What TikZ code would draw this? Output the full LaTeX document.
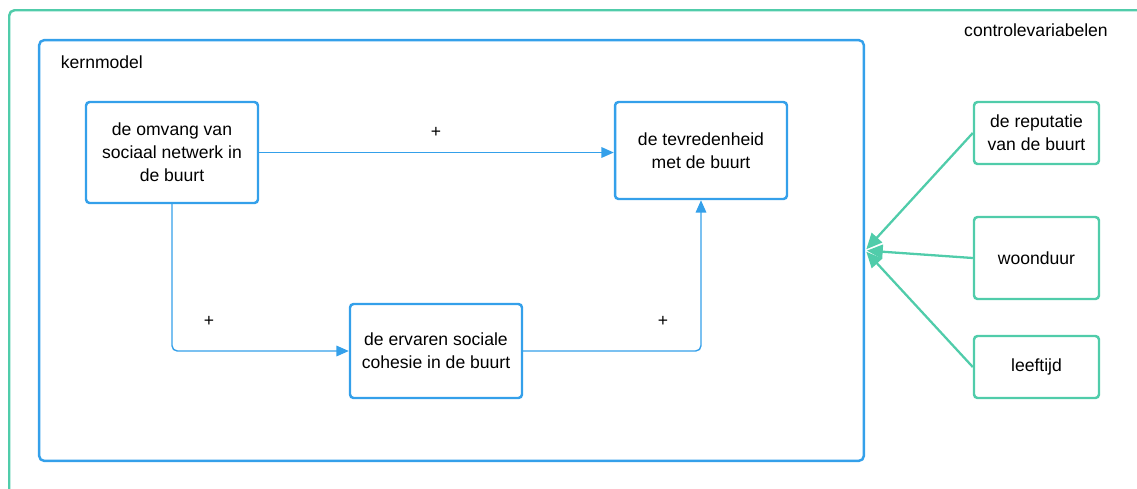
\documentclass[tikz,border=0pt]{standalone}
\usepackage{fontspec}
\setmainfont{Liberation Sans}
\usetikzlibrary{arrows.meta}
\definecolor{kernblue}{RGB}{52,160,234}
\definecolor{ctrlgreen}{RGB}{80,204,170}

\begin{document}
\begin{tikzpicture}[x=0.02cm,y=-0.02cm,
  every node/.style={font=\fontsize{10}{13}\selectfont, text=black, align=center, inner sep=2pt},
  varbox/.style={draw=kernblue, line width=1.4pt, rounded corners=2pt, minimum width=3.44cm},
  ctrlbox/.style={draw=ctrlgreen, line width=1.4pt, rounded corners=2pt, minimum width=2.5cm},
  pad/.style={draw=kernblue, line width=0.8pt, rounded corners=3pt, -{Triangle[length=7pt,width=6pt]}},
  ctrlpad/.style={draw=ctrlgreen, line width=1.3pt, shorten >=1pt, -{Triangle[length=9pt,width=8pt]}}]
\clip (0,0) rectangle (1137,488);
% controlevariabelen frame, runs off the page at right and bottom
\node[draw=ctrlgreen, line width=1.4pt, rounded corners=3pt, minimum width=24cm, minimum height=10cm, anchor=north west] (ctrl) at (8,9) {};
\node (ctrltitle) at (1036,30) {controlevariabelen};
% kernmodel
\node[draw=kernblue, line width=1.4pt, rounded corners=3pt, minimum width=16.5cm, minimum height=8.42cm] (kern) at (451.5,250.5) {};
\node[anchor=west] (kerntitle) at (57,62) {kernmodel};
\node[varbox, minimum height=2.02cm] (netwerk) at (172,152.5) {de omvang van\\sociaal netwerk in\\de buurt};
\node[varbox, minimum height=1.94cm] (tevreden) at (701,150.5) {de tevredenheid\\met de buurt};
\node[varbox, minimum height=1.88cm] (cohesie) at (436,351) {de ervaren sociale\\cohesie in de buurt};
\draw[pad] (netwerk.east) -- (netwerk.east -| tevreden.west);
\draw[pad] (netwerk.south) |- (cohesie.west);
\draw[pad] (cohesie.east) -| (tevreden.south);
\node (plusa) at (436,132) {+};
\node (plusb) at (209,321) {+};
\node (plusc) at (663,321) {+};
% control variables
\node[ctrlbox, minimum height=1.24cm] (reputatie) at (1036.5,133) {de reputatie\\van de buurt};
\node[ctrlbox, minimum height=1.64cm] (woonduur) at (1036.5,258) {woonduur};
\node[ctrlbox, minimum height=1.24cm] (leeftijd) at (1036.5,367) {leeftijd};
\draw[ctrlpad] (reputatie.west) -- (kern.east);
\draw[ctrlpad] (woonduur.west) -- (kern.east);
\draw[ctrlpad] (leeftijd.west) -- (kern.east);
\end{tikzpicture}
\end{document}
